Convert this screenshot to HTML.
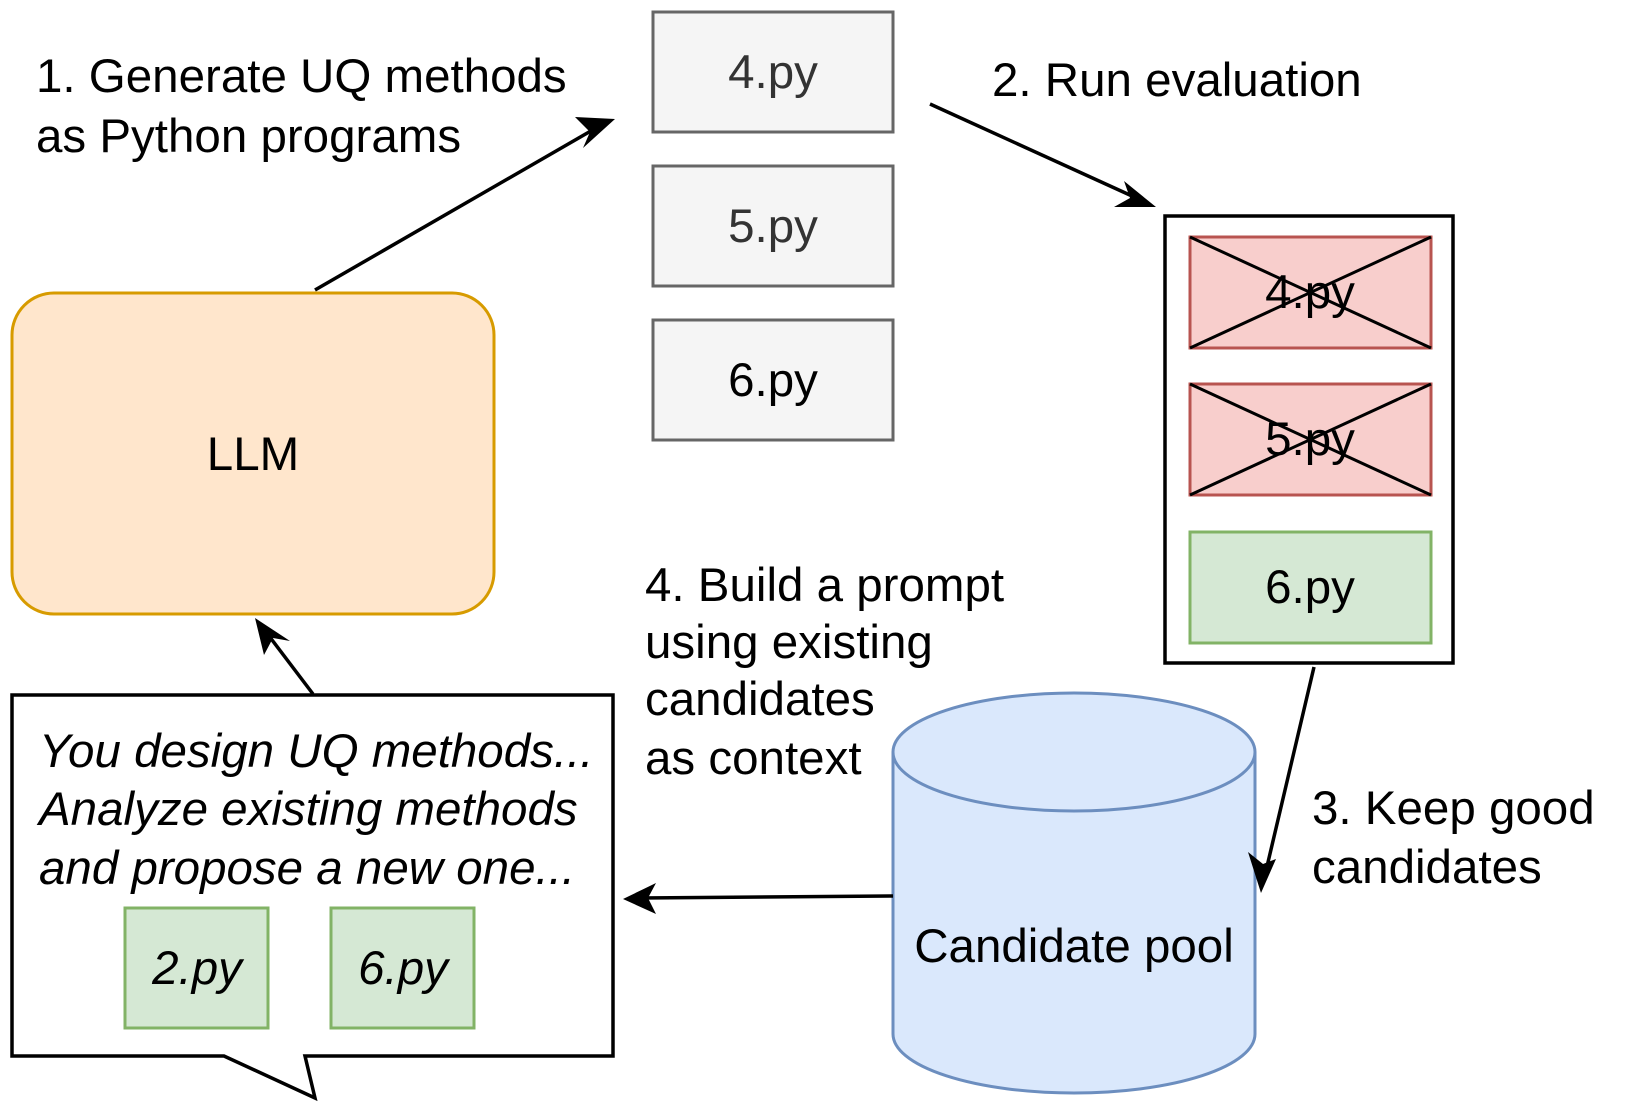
<!DOCTYPE html>
<html><head><meta charset="utf-8"><style>
html,body{margin:0;padding:0;background:#fff;}
svg{display:block;font-family:"Liberation Sans",Arial,sans-serif;}
</style></head><body>
<svg width="1640" height="1108" viewBox="0 0 1640 1108" xmlns="http://www.w3.org/2000/svg">
<g font-size="47.5">
<text x="36" y="92">1. Generate UQ methods</text>
<text x="36" y="152">as Python programs</text>
<text x="992" y="96">2. Run evaluation</text>
<text x="645" y="601">4. Build a prompt</text>
<text x="645" y="658">using existing</text>
<text x="645" y="715">candidates</text>
<text x="645" y="774">as context</text>
<text x="1312" y="824">3. Keep good</text>
<text x="1312" y="883">candidates</text>
</g>
<g fill="#f5f5f5" stroke="#666" stroke-width="3">
<rect x="653" y="12" width="240" height="120"/>
<rect x="653" y="166" width="240" height="120"/>
<rect x="653" y="320" width="240" height="120"/>
</g>
<g font-size="47.5" text-anchor="middle">
<text x="773" y="88" fill="#333">4.py</text>
<text x="773" y="242" fill="#333">5.py</text>
<text x="773" y="396" fill="#000">6.py</text>
</g>
<rect x="1165" y="216" width="288" height="447" fill="#fff" stroke="#000" stroke-width="3.5"/>
<g stroke="#b85450" stroke-width="3" fill="#f8cecc">
<rect x="1190" y="237" width="241" height="111"/>
<rect x="1190" y="384" width="241" height="111"/>
</g>
<rect x="1190" y="532" width="241" height="111" fill="#d5e8d4" stroke="#82b366" stroke-width="3"/>
<g font-size="47.5" text-anchor="middle">
<text x="1310" y="308">4.py</text>
<text x="1310" y="455">5.py</text>
<text x="1310" y="603">6.py</text>
</g>
<g stroke="#000" stroke-width="3">
<line x1="1190" y1="237" x2="1431" y2="348"/><line x1="1431" y1="237" x2="1190" y2="348"/>
<line x1="1190" y1="384" x2="1431" y2="495"/><line x1="1431" y1="384" x2="1190" y2="495"/>
</g>
<rect x="12" y="293" width="482" height="321" rx="42" fill="#ffe6cc" stroke="#d79b00" stroke-width="3"/>
<text x="253" y="470" font-size="47.5" text-anchor="middle">LLM</text>
<path d="M12 695 H613 V1056 H305 L315 1098 L224 1056 H12 Z" fill="#fff" stroke="#000" stroke-width="3.5"/>
<g font-size="47.5" font-style="italic">
<text x="39" y="767">You design UQ methods...</text>
<text x="39" y="825">Analyze existing methods</text>
<text x="39" y="884">and propose a new one...</text>
</g>
<g fill="#d5e8d4" stroke="#82b366" stroke-width="3">
<rect x="125" y="908" width="143" height="120"/>
<rect x="331" y="908" width="143" height="120"/>
</g>
<g font-size="47.5" font-style="italic" text-anchor="middle">
<text x="197" y="984">2.py</text>
<text x="403" y="984">6.py</text>
</g>
<path d="M893 752 V1034 A181 59 0 0 0 1255 1034 V752" fill="#dae8fc" stroke="#6c8ebf" stroke-width="3"/>
<ellipse cx="1074" cy="752" rx="181" ry="59" fill="#dae8fc" stroke="#6c8ebf" stroke-width="3"/>
<text x="1074" y="962" font-size="47.5" text-anchor="middle">Candidate pool</text>
<g stroke="#000" stroke-width="3.5" fill="none">
<line x1="315" y1="290" x2="596" y2="128"/>
<line x1="930" y1="104" x2="1143" y2="201"/>
<line x1="1314" y1="667" x2="1265" y2="875"/>
<line x1="893" y1="896" x2="640" y2="898"/>
<line x1="313" y1="694" x2="266" y2="632"/>
</g>
<g fill="#000">
<polygon points="615,119 583,148 590,132 575,117"/>
<polygon points="1156,207 1114,207 1130,198 1124,181"/>
<polygon points="1261,893 1248,852 1263,864 1276,859"/>
<polygon points="623,899 656,883 648,898 656,914"/>
<polygon points="255,618 290,641 273,638 264,655"/>
</g>
</svg>
</body></html>
